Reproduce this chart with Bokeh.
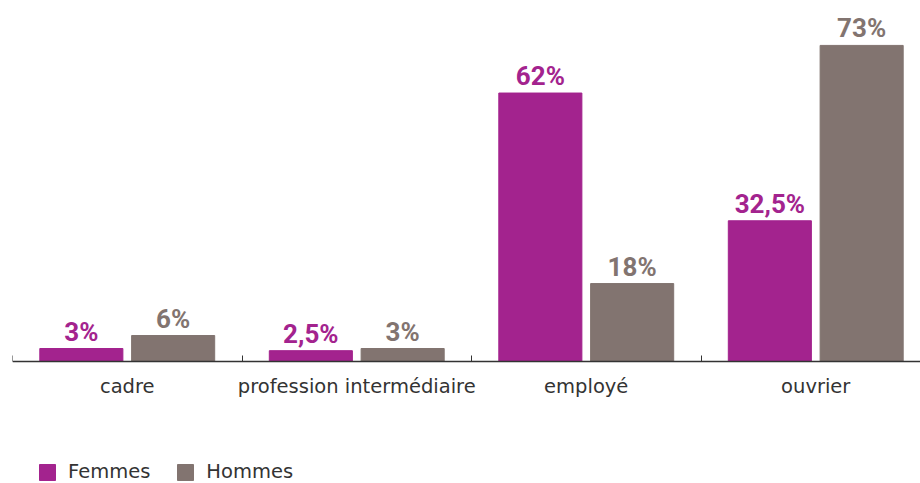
from bokeh.plotting import figure
from bokeh.models import ColumnDataSource, FixedTicker, Legend, LegendItem, Range1d
from bokeh.core.properties import value
from bokeh.embed import file_html
from bokeh.resources import INLINE

categories = ["cadre", "profession intermédiaire", "employé", "ouvrier"]
femmes = [3, 2.5, 62, 32.5]
hommes = [6, 3, 18, 73]
femmes_labels = ["3%", "2,5%", "62%", "32,5%"]
hommes_labels = ["6%", "3%", "18%", "73%"]

C_F = "#A3238E"
C_H = "#827470"

idx = list(range(len(categories)))
xf = [i + 0.5 - 0.2 for i in idx]
xh = [i + 0.5 + 0.2 for i in idx]

src_f = ColumnDataSource(dict(x=xf, top=femmes, lab=femmes_labels))
src_h = ColumnDataSource(dict(x=xh, top=hommes, lab=hommes_labels))

PX = 4.33  # pixels per percent
p = figure(width=920, height=483, output_backend="svg", toolbar_location=None,
           x_range=Range1d(0, 908 / 229.5),
           y_range=Range1d(-(483 - 361) / PX, (361 - 8) / PX),
           min_border_left=12, min_border_right=0, min_border_top=8, min_border_bottom=0)
p.outline_line_color = None
p.grid.visible = False
p.yaxis.visible = False
p.background_fill_color = "white"

rf = p.vbar(x="x", top="top", width=0.362, bottom=0, source=src_f, color=C_F)
rh = p.vbar(x="x", top="top", width=0.362, bottom=0, source=src_h, color=C_H)

p.text(x="x", y="top", text="lab", source=src_f, text_align="center", text_baseline="bottom",
       y_offset=-2, text_font=value("Roboto"), text_font_style="bold", text_font_size="26px",
       text_color=C_F)
p.text(x="x", y="top", text="lab", source=src_h, text_align="center", text_baseline="bottom",
       y_offset=-2, text_font=value("Roboto"), text_font_style="bold", text_font_size="26px",
       text_color=C_H)

xa = p.xaxis[0]
xa.fixed_location = 0
xa.ticker = FixedTicker(ticks=[i + 0.5 for i in idx], minor_ticks=[0, 1, 2, 3])
xa.major_label_overrides = {i + 0.5: c for i, c in zip(idx, categories)}
xa.major_tick_line_color = None
xa.minor_tick_in = 6
xa.minor_tick_out = 0
xa.minor_tick_line_color = "#333333"
xa.axis_line_color = "#333333"
xa.axis_line_width = 1.3
xa.major_label_text_font = "DejaVu Sans"
xa.major_label_text_font_size = "19.5px"
xa.major_label_text_color = "#333333"
xa.major_label_standoff = 7

legend = Legend(items=[LegendItem(label="Femmes", renderers=[rf]),
                       LegendItem(label="Hommes", renderers=[rh])],
                location=(25, 0), orientation="horizontal",
                glyph_width=20, glyph_height=20, label_height=20,
                label_standoff=11, spacing=25,
                label_text_font="DejaVu Sans", label_text_font_size="19.5px",
                label_text_color="#333333", border_line_color=None,
                background_fill_alpha=0, padding=0, margin=0)
p.add_layout(legend, "center")

open("out.html", "w").write(file_html(p, INLINE))
